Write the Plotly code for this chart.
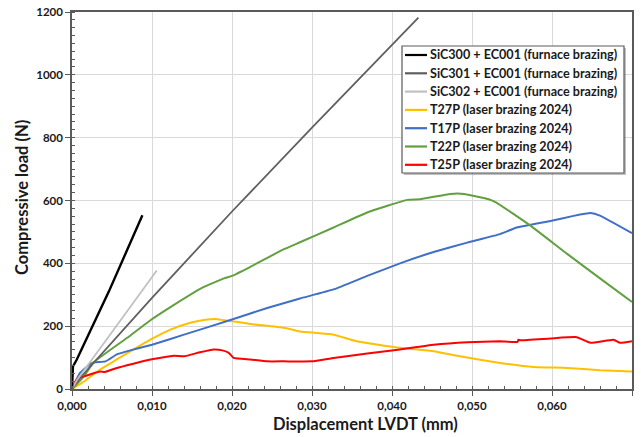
import plotly.graph_objects as go

# ---- data -------------------------------------------------------------
names = [
    "SiC300 + EC001 (furnace brazing)",
    "SiC301 + EC001 (furnace brazing)",
    "SiC302 + EC001 (furnace brazing)",
    "T27P (laser brazing 2024)",
    "T17P (laser brazing 2024)",
    "T22P (laser brazing 2024)",
    "T25P (laser brazing 2024)",
]
colors = ["#000000", "#5f5f5f", "#c0c0c0", "#ffc000", "#3f6fc6", "#62a03f", "#ff0000"]
widths = [2.4, 1.8, 1.8, 2.0, 2.0, 2.0, 2.0]

x_sic300 = [0.0, 0.00012, 0.0006, 0.0046, 0.0088]
y_sic300 = [0, 72, 94, 310, 553]

x_sic301 = [0.0, 0.001, 0.010, 0.020, 0.030, 0.0433]
y_sic301 = [0, 35, 290, 565, 832, 1182]

x_sic302 = [0.0, 0.0006, 0.0056, 0.0106]
y_sic302 = [0, 28, 202, 377]

x_t27p = [0.0, 0.0015, 0.0035, 0.0056, 0.0077, 0.0098, 0.0123, 0.0148, 0.0169,
          0.0179, 0.019, 0.020, 0.0223, 0.0265, 0.0285, 0.0327, 0.0356, 0.041,
          0.0452, 0.0485, 0.0535, 0.0577, 0.0619, 0.066, 0.070]
y_t27p = [0, 24, 62, 94, 126, 157, 189, 211, 221,
          223, 219, 216, 207, 195, 183, 173, 152, 131,
          120, 104, 83, 70, 67, 60, 56]

x_t17p = [0.0, 0.001, 0.0023, 0.0029, 0.0042, 0.0056, 0.0073, 0.010, 0.014,
          0.020, 0.0244, 0.0285, 0.0327, 0.0369, 0.041, 0.0452, 0.0494, 0.0535,
          0.0556, 0.0598, 0.0627, 0.0648, 0.066, 0.070]
y_t17p = [0, 51, 80, 85, 88, 110, 123, 141, 173,
          221, 258, 288, 317, 360, 400, 436, 466, 493,
          514, 535, 551, 560, 552, 496]

x_t22p = [0.0, 0.0015, 0.0027, 0.0069, 0.0098, 0.0125, 0.01625, 0.019, 0.020,
          0.0223, 0.0265, 0.0285, 0.0327, 0.0369, 0.0419, 0.0435, 0.0473, 0.049,
          0.0521, 0.0530, 0.0573, 0.0619, 0.066, 0.070]
y_t22p = [0, 40, 85, 163, 219, 264, 322, 352, 360,
          389, 445, 467, 514, 562, 602, 604, 621, 621,
          604, 594, 520, 430, 352, 277]

x_t25p = [0.0, 0.0006, 0.0015, 0.0035, 0.0041, 0.0056, 0.0098, 0.0127, 0.014,
          0.016, 0.0177, 0.0188, 0.0196, 0.0202, 0.0223, 0.0244, 0.0265, 0.030,
          0.0327, 0.0369, 0.041, 0.0452, 0.0494, 0.0535, 0.0557, 0.0558, 0.0560,
          0.0598, 0.0631, 0.0648, 0.0677, 0.0685, 0.070]
y_t25p = [0, 30, 40, 56, 54, 67, 94, 106, 104,
          117, 126, 123, 115, 99, 94, 88, 88, 88,
          99, 113, 126, 141, 149, 152, 150, 157, 155,
          161, 165, 147, 157, 147, 152]

xs = [x_sic300, x_sic301, x_sic302, x_t27p, x_t17p, x_t22p, x_t25p]
ys = [y_sic300, y_sic301, y_sic302, y_t27p, y_t17p, y_t22p, y_t25p]

# ---- layout geometry (pixels) ----------------------------------------
W, H = 641, 437
ML, MR, MT, MB = 72, 9, 12, 48
PW, PH = W - ML - MR, H - MT - MB


def px(xp):
    return (xp - ML) / PW


def py(yp):
    return (H - MB - yp) / PH


FONT = "Lato"
TXT = "#1a1a1a"

fig = go.Figure()
# draw order: laser-brazed curves first, furnace curves on top
for i in [3, 4, 5, 6, 1, 2, 0]:
    smooth = i >= 3
    fig.add_trace(go.Scatter(
        x=xs[i], y=ys[i], mode="lines", name=names[i],
        line=dict(color=colors[i], width=widths[i],
                  shape="spline" if smooth else "linear",
                  smoothing=0.35 if smooth else None),
        showlegend=False, hoverinfo="skip",
    ))

axis_common = dict(
    showline=True, linecolor="#5a5a5a", linewidth=1.5, mirror=True,
    showgrid=True, gridcolor="#d9d9d9", gridwidth=1,
    zeroline=False, ticks="outside", ticklen=5, tickwidth=1.2,
    tickcolor="#5a5a5a", automargin=False,
    tickfont=dict(family=FONT, size=11.5, color=TXT, weight="bold"),
)

fig.update_xaxes(
    range=[0, 0.07], dtick=0.01, tickformat=".3f",
    minor=dict(dtick=0.002, ticks="inside", ticklen=3, tickcolor="#5a5a5a",
               showgrid=False),
    **axis_common,
)
fig.update_yaxes(
    range=[0, 1200], dtick=200,
    minor=dict(dtick=25, ticks="inside", ticklen=3, tickcolor="#5a5a5a",
               showgrid=False),
    **axis_common,
)

# axis titles
fig.add_annotation(text="Displacement LVDT (mm)", xref="paper", yref="paper",
                   x=px(365), y=py(424), xanchor="center", yanchor="middle",
                   showarrow=False,
                   font=dict(family=FONT, size=16.5, color=TXT, weight="bold"))
fig.add_annotation(text="Compressive load (N)", xref="paper", yref="paper",
                   x=px(22), y=py(198), xanchor="center", yanchor="middle",
                   showarrow=False, textangle=-90,
                   font=dict(family=FONT, size=16.5, color=TXT, weight="bold"))

# legend box with a soft shadow
box_l, box_t, box_r, box_b = 402, 46, 624, 173
fig.add_shape(type="rect", xref="paper", yref="paper",
              x0=px(box_l + 2), x1=px(box_r + 2), y0=py(box_b + 2), y1=py(box_t + 2),
              line=dict(width=0), fillcolor="rgba(0,0,0,0.25)", layer="above")
fig.add_shape(type="rect", xref="paper", yref="paper",
              x0=px(box_l), x1=px(box_r), y0=py(box_b), y1=py(box_t),
              line=dict(color="#5a5a5a", width=1.2), fillcolor="white", layer="above")

row0, pitch = 55.0, 18.3
for k, name in enumerate(names):
    yc = row0 + k * pitch
    fig.add_shape(type="line", xref="paper", yref="paper",
                  x0=px(405), x1=px(427), y0=py(yc), y1=py(yc),
                  line=dict(color=colors[k], width=2.2), layer="above")
    fig.add_annotation(text=name, xref="paper", yref="paper",
                       x=px(428), y=py(yc), xanchor="left", yanchor="middle",
                       showarrow=False,
                       font=dict(family=FONT, size=12.6, color=TXT, weight="bold"))

fig.update_layout(
    width=W, height=H,
    margin=dict(l=ML, r=MR, t=MT, b=MB, autoexpand=False),
    paper_bgcolor="white", plot_bgcolor="white",
    separators=", ",
    showlegend=False,
)

fig.write_html("out.html")
